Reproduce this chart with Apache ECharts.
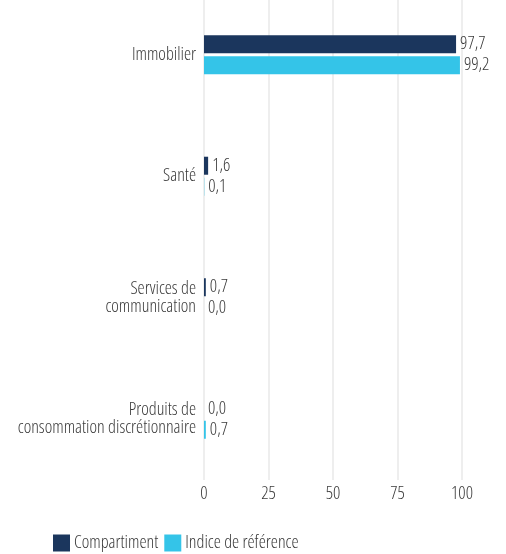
<!DOCTYPE html>
<html><head><meta charset="utf-8">
<script src="https://cdn.jsdelivr.net/npm/echarts@6/dist/echarts.min.js"></script>
<style>html,body{margin:0;padding:0;background:#fff}#c{width:506px;height:554px}</style>
</head><body><div id="c"></div>
<script>
const categories = ['Immobilier', 'Santé', 'Services de\ncommunication', 'Produits de\nconsommation discrétionnaire'];
const compartiment = [97.7, 1.6, 0.7, 0.0];
const indice = [99.2, 0.1, 0.0, 0.7];
const FONT = '"Open Sans", sans-serif';
const TXT = { fontFamily: FONT, fontStyle: 'condensed', fontWeight: 300, fontSize: 18, color: '#3a3a3a' };
const fmt = v => v.value.toFixed(1).replace('.', ',');
const chart = echarts.init(document.getElementById('c'));
chart.setOption({
  animation: false,
  textStyle: TXT,
  legend: {
    left: 48, top: 529, itemWidth: 17, itemHeight: 17, itemGap: 6,
    icon: 'rect',
    textStyle: Object.assign({}, TXT, { padding: [0, 0, 0, -1] }),
    data: ['Compartiment', 'Indice de référence']
  },
  grid: { left: 204, right: 44, top: -6, height: 486, containLabel: false, outerBoundsMode: 'none' },
  xAxis: {
    type: 'value', min: 0, max: 100, interval: 25,
    axisLine: { show: false }, axisTick: { show: false },
    splitLine: { show: true, lineStyle: { color: '#eeeeee', width: 2 } },
    axisLabel: Object.assign({}, TXT, { margin: 5 })
  },
  yAxis: {
    type: 'category', inverse: true, data: categories,
    axisLine: { show: false }, axisTick: { show: false },
    axisLabel: Object.assign({}, TXT, { margin: 8, lineHeight: 18, align: 'right' })
  },
  series: [
    { name: 'Compartiment', type: 'bar', data: compartiment, barWidth: 18, barGap: '17%',
      itemStyle: { color: '#1b365d' },
      label: Object.assign({ show: true, position: 'right', distance: 4, formatter: fmt }, TXT) },
    { name: 'Indice de référence', type: 'bar', data: indice, barWidth: 18,
      itemStyle: { color: '#34c4e8' },
      label: Object.assign({ show: true, position: 'right', distance: 4, formatter: fmt }, TXT) }
  ]
});
</script></body></html>
